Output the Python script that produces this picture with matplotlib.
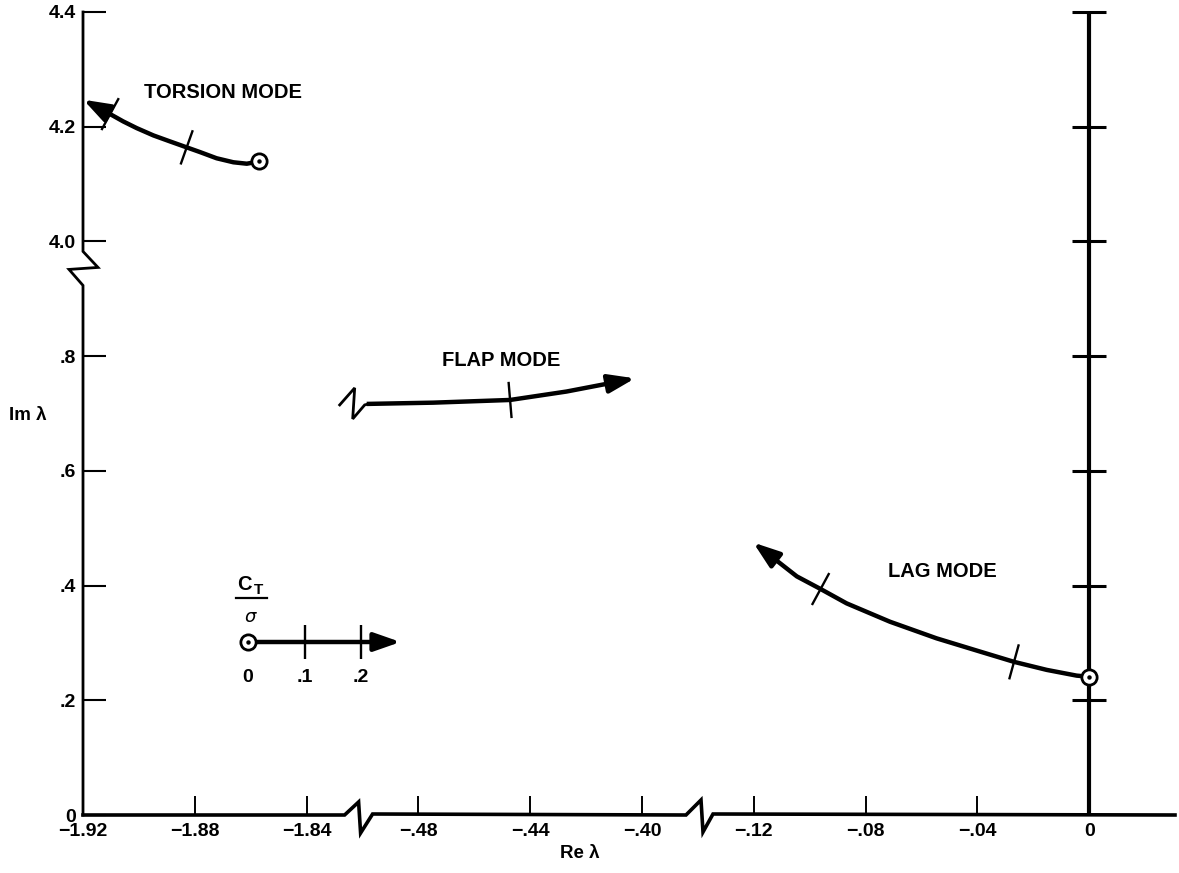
import numpy as np
import matplotlib
matplotlib.use("Agg")
import matplotlib.pyplot as plt
from matplotlib.transforms import IdentityTransform

# ---------------------------------------------------------------
# Root loci of blade modes as C_T/sigma increases (Re, Im of lambda)
# ---------------------------------------------------------------
torsion_re = [-1.8569, -1.8614, -1.8662, -1.8722, -1.8781, -1.8829, -1.8889,
              -1.8948, -1.9008, -1.9056, -1.9103, -1.9199]
torsion_im = [4.1395, 4.1355, 4.1380, 4.1450, 4.1557, 4.1640, 4.1744,
              4.1848, 4.1976, 4.2092, 4.2220, 4.2471]
torsion_mark_re = [-1.8829, -1.9103]          # C_T/sigma = .1, .2
torsion_mark_im = [4.1640, 4.2220]

flap_re = [-0.4985, -0.4747, -0.4472, -0.4270, -0.4115, -0.4025]
flap_im = [0.7167, 0.7189, 0.7236, 0.7383, 0.7528, 0.7613]
flap_mark_re = [-0.4472]
flap_mark_im = [0.7236]

lag_re = [0.0, -0.0045, -0.0152, -0.0269, -0.0391, -0.0546, -0.0713,
          -0.0868, -0.0961, -0.1046, -0.1130, -0.1202]
lag_im = [0.241, 0.243, 0.253, 0.267, 0.285, 0.308, 0.337,
          0.369, 0.394, 0.416, 0.448, 0.475]
lag_mark_re = [-0.0269, -0.0961]
lag_mark_im = [0.267, 0.394]

key_values = [0.0, 0.1, 0.2]
key_labels = ["0", ".1", ".2"]

x_ticks = [-1.92, -1.88, -1.84, -0.48, -0.44, -0.40, -0.12, -0.08, -0.04, 0.0]
x_labels = ["\u22121.92", "\u22121.88", "\u22121.84", "\u2212.48", "\u2212.44",
            "\u2212.40", "\u2212.12", "\u2212.08", "\u2212.04", "0"]
y_ticks = [0.0, 0.2, 0.4, 0.6, 0.8, 4.0, 4.2, 4.4]
y_labels = ["0", ".2", ".4", ".6", ".8", "4.0", "4.2", "4.4"]

FONT = "Liberation Sans"
BLACK = "black"


# ---------------------------------------------------------------
# Broken scales: three Re segments, two Im segments
# ---------------------------------------------------------------
def fwd_x(x):
    x = np.asarray(x, dtype=float)
    return np.where(x < -1.2, (x + 1.92) / 0.04,
                    np.where(x < -0.3, 3 + (x + 0.48) / 0.04,
                             6 + (x + 0.12) / 0.04))


def inv_x(p):
    p = np.asarray(p, dtype=float)
    return np.where(p < 2.5, -1.92 + p * 0.04,
                    np.where(p < 5.5, -0.48 + (p - 3) * 0.04,
                             -0.12 + (p - 6) * 0.04))


def fwd_y(y):
    y = np.asarray(y, dtype=float)
    return np.where(y < 2.5, y / 0.2, 5 + (y - 4.0) / 0.2)


def inv_y(p):
    p = np.asarray(p, dtype=float)
    return np.where(p < 4.5, p * 0.2, 4.0 + (p - 5) * 0.2)


W, H = 1179, 873
fig = plt.figure(figsize=(W / 100, H / 100), dpi=100)
ax = fig.add_axes([83 / W, 58 / H, 1092 / W, 803 / H])
ax.set_xscale("function", functions=(fwd_x, inv_x))
ax.set_yscale("function", functions=(fwd_y, inv_y))
ax.set_xlim(-1.92, -0.12 + (1092 / 111.8 - 6) * 0.04)
ax.set_ylim(0.0, 4.4)
for s in ax.spines.values():
    s.set_visible(False)

ax.set_xticks(x_ticks)
ax.set_xticklabels(x_labels, fontsize=14, fontweight="bold", family=FONT)
ax.set_yticks(y_ticks)
ax.set_yticklabels(y_labels, fontsize=14, fontweight="bold", family=FONT)
ax.tick_params(axis="x", direction="in", length=14, width=1.4, pad=6)
ax.tick_params(axis="y", direction="in", length=16.5, width=1.5, pad=5)
ax.minorticks_off()

ID = IdentityTransform()


def disp(x, y):
    return ax.transData.transform((x, y))


def pline(pts, lw, **kw):
    pts = np.asarray(pts, dtype=float)
    ax.plot(pts[:, 0], pts[:, 1], color=BLACK, lw=lw, transform=ID,
            clip_on=False, solid_joinstyle="miter", **kw)


# ---- left axis with break between 4.0 and .8 ----
x0, y_top = disp(-1.92, 4.4)
_, y40 = disp(-1.92, 4.0)
_, y00 = disp(-1.92, 0.0)
pline([(x0, y_top), (x0, y40 - 10), (x0 + 15, y40 - 26),
       (x0 - 14, y40 - 28), (x0, y40 - 44), (x0, y00)], lw=2.0)

# ---- bottom axis with two breaks ----
x184, _ = disp(-1.84, 0)
x040, _ = disp(-0.40, 0)
x_end = ax.transAxes.transform((1.0, 0))[0]
pline([(x0, y00), (x184 + 38, y00), (x184 + 52, y00 + 13),
       (x184 + 54, y00 - 18), (x184 + 66, y00 + 1),
       (x040 + 44, y00), (x040 + 59, y00 + 15), (x040 + 61, y00 - 17),
       (x040 + 71, y00 + 1), (x_end, y00)], lw=2.6)

# ---- imaginary axis at Re = 0 with crossing ticks ----
ax.plot([0, 0], [0, 4.4], color=BLACK, lw=3.0, clip_on=False,
        solid_capstyle="butt")
ax.plot([0.0] * 7, y_ticks[1:], ls="none", marker="_", ms=25, mew=2.2,
        color=BLACK, clip_on=False)


# ---- loci ----
def locus(re, im, mre, mim, lw=3.2):
    ax.plot(re[:-1], im[:-1], color=BLACK, lw=lw, solid_capstyle="butt",
            solid_joinstyle="round", zorder=3)
    ax.annotate("", xy=(re[-1], im[-1]), xytext=(re[-2], im[-2]),
                arrowprops=dict(arrowstyle="-|>,head_length=0.8,head_width=0.28",
                                mutation_scale=20, lw=lw, color=BLACK,
                                shrinkA=0, shrinkB=0), zorder=3)
    pts = np.array([disp(a, b) for a, b in zip(re, im)])
    for a, b in zip(mre, mim):
        p = disp(a, b)
        i = int(np.argmin(np.hypot(*(pts - p).T)))
        i0, i1 = max(i - 1, 0), min(i + 1, len(pts) - 1)
        t = pts[i1] - pts[i0]
        t = t / np.hypot(*t)
        n = np.array([-t[1], t[0]]) * 17
        pline([p - n, p + n], lw=1.7, zorder=4)


locus(torsion_re, torsion_im, torsion_mark_re, torsion_mark_im)
locus(flap_re, flap_im, flap_mark_re, flap_mark_im)
locus(lag_re, lag_im, lag_mark_re, lag_mark_im)

# flap branch enters from beyond the Re break
sx, sy = disp(flap_re[0], flap_im[0])
pline([(sx - 27, sy - 1), (sx - 12, sy + 16), (sx - 14, sy - 15),
       (sx - 2, sy - 1), (sx + 2, sy)], lw=2.0)

# zero-thrust roots
for re0, im0 in [(torsion_re[0], torsion_im[0]), (lag_re[0], lag_im[0])]:
    ax.plot([re0], [im0], marker="o", ms=11, mfc="white", mec=BLACK,
            mew=2.0, zorder=6, clip_on=False)
    ax.plot([re0], [im0], marker="o", ms=2.2, color=BLACK, zorder=7,
            clip_on=False)

# ---- mode labels ----
lab = dict(fontsize=14.5, fontweight="bold", family=FONT, ha="center",
           va="center", color=BLACK)
ax.text(-1.870, 4.26, "TORSION MODE", **lab)
ax.text(-0.4504, 0.793, "FLAP MODE", **lab)
ax.text(-0.0527, 0.424, "LAG MODE", **lab)

# ---- axis titles ----
fig.text(28 / W, 1 - 415 / H, "Im \u03bb", fontsize=13.5, fontweight="bold",
         family=FONT, ha="center", va="center")
fig.text(580 / W, 1 - 853 / H, "Re \u03bb", fontsize=13.5, fontweight="bold",
         family=FONT, ha="center", va="center")

# ---- C_T/sigma key ----
kx0, ky = (248 - 83) / 1092, (815 - 642) / 803
kstep = 56.5 / 1092
kx = [kx0 + v / 0.1 * kstep for v in key_values]
ta = ax.transAxes
ax.annotate("", xy=(kx0 + 2.7 * kstep, ky), xytext=(kx[-1], ky),
            xycoords=ta, textcoords=ta,
            arrowprops=dict(arrowstyle="-|>,head_length=0.8,head_width=0.28",
                            mutation_scale=20, lw=3.2, color=BLACK,
                            shrinkA=0, shrinkB=0))
ax.plot([kx[0], kx[-1]], [ky, ky], color=BLACK, lw=3.2, transform=ta,
        solid_capstyle="butt")
ax.plot(kx[1:], [ky] * (len(kx) - 1), ls="none", marker="|", ms=25,
        mew=1.7, color=BLACK, transform=ta)
ax.plot([kx[0]], [ky], marker="o", ms=11, mfc="white", mec=BLACK, mew=2.0,
        transform=ta, zorder=6)
ax.plot([kx[0]], [ky], marker="o", ms=2.2, color=BLACK, transform=ta, zorder=7)
for x, s in zip(kx, key_labels):
    ax.text(x, ky - 36 / 803, s, transform=ta, fontsize=14, fontweight="bold",
            family=FONT, ha="center", va="center")
fx = lambda px: px / W
fy = lambda py: 1 - py / H
fig.text(fx(244), fy(584), "C", fontsize=14.5, fontweight="bold", family=FONT,
         ha="center", va="center")
fig.text(fx(259), fy(590), "T", fontsize=11, fontweight="bold", family=FONT,
         ha="center", va="center")
fig.add_artist(plt.Line2D([fx(236), fx(267)], [fy(598), fy(598)], lw=1.6,
                          color=BLACK, transform=fig.transFigure))
fig.text(fx(250), fy(617), "\u03c3", fontsize=13, fontstyle="italic",
         family="DejaVu Sans", ha="center", va="center")

fig.savefig("out.png", dpi=100, facecolor="white")
